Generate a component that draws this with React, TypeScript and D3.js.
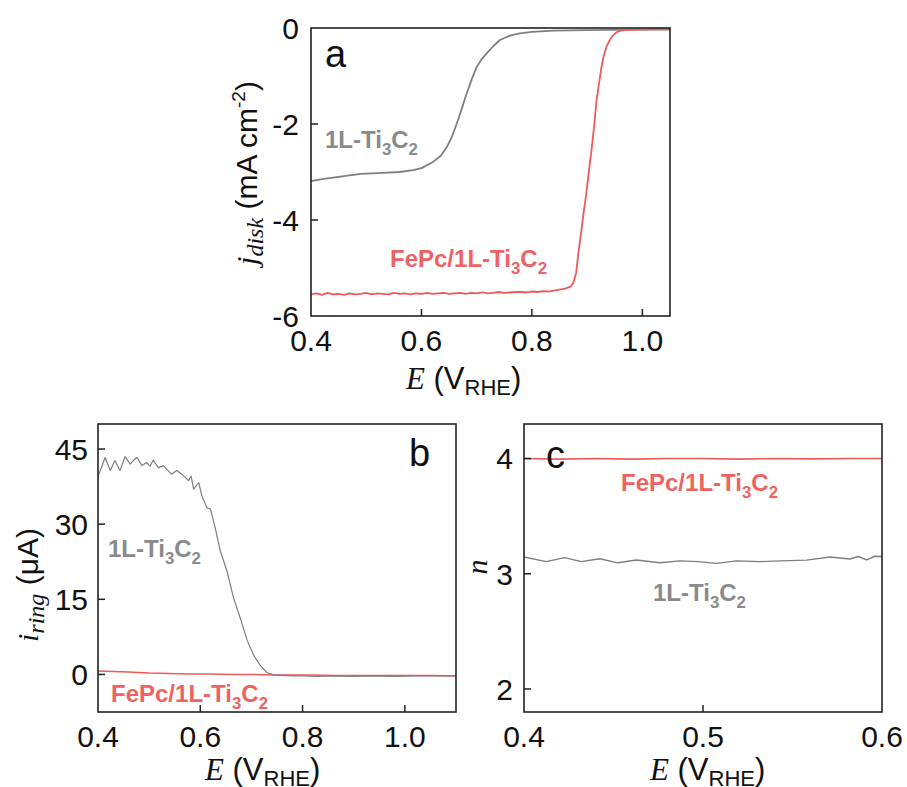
import React from "react";
import * as d3 from "d3";

// ---------- Panel a data ----------
const aGrayE = [0.4, 0.42, 0.45, 0.49, 0.53, 0.56, 0.585, 0.6, 0.621, 0.635, 0.646, 0.655, 0.664, 0.673, 0.682, 0.691, 0.7, 0.709, 0.718, 0.73, 0.742, 0.76, 0.778, 0.8, 0.839, 0.9, 0.95, 1.0, 1.05];
const aGrayJ = [-3.19, -3.15, -3.1, -3.04, -3.02, -3.0, -2.96, -2.92, -2.79, -2.66, -2.48, -2.27, -1.99, -1.68, -1.36, -1.07, -0.81, -0.65, -0.53, -0.38, -0.25, -0.16, -0.11, -0.08, -0.056, -0.045, -0.038, -0.033, -0.03];

const aRedE = [0.4, 0.41, 0.42, 0.43, 0.44, 0.45, 0.46, 0.47, 0.48, 0.49, 0.5, 0.51, 0.52, 0.53, 0.54, 0.55, 0.56, 0.57, 0.58, 0.59, 0.6, 0.61, 0.62, 0.63, 0.64, 0.65, 0.66, 0.67, 0.68, 0.69, 0.7, 0.71, 0.72, 0.73, 0.74, 0.75, 0.76, 0.77, 0.78, 0.79, 0.8, 0.81, 0.82, 0.83, 0.84, 0.85, 0.86, 0.87, 0.875, 0.88, 0.884, 0.889, 0.893, 0.899, 0.904, 0.908, 0.913, 0.917, 0.922, 0.926, 0.93, 0.935, 0.941, 0.947, 0.953, 0.959, 0.971, 0.99, 1.02, 1.05];
const aRedJ = [-5.55, -5.53, -5.56, -5.52, -5.55, -5.54, -5.56, -5.53, -5.55, -5.54, -5.52, -5.55, -5.53, -5.54, -5.55, -5.52, -5.54, -5.53, -5.55, -5.53, -5.54, -5.52, -5.54, -5.53, -5.52, -5.54, -5.53, -5.52, -5.54, -5.52, -5.53, -5.51, -5.53, -5.52, -5.5, -5.52, -5.51, -5.5, -5.5, -5.51, -5.49, -5.5, -5.48, -5.49, -5.47, -5.45, -5.43, -5.39, -5.3, -5.11, -4.7, -4.27, -3.9, -3.4, -2.9, -2.54, -2.0, -1.5, -1.12, -0.81, -0.58, -0.39, -0.25, -0.15, -0.09, -0.06, -0.04, -0.035, -0.03, -0.03];

// ---------- Panel b data ----------
const bGrayE = [0.4, 0.403, 0.414, 0.424, 0.433, 0.443, 0.453, 0.463, 0.47, 0.476, 0.486, 0.495, 0.502, 0.508, 0.518, 0.528, 0.536, 0.544, 0.554, 0.567, 0.577, 0.582, 0.587, 0.597, 0.603, 0.613, 0.62, 0.629, 0.639, 0.652, 0.665, 0.678, 0.692, 0.705, 0.718, 0.731, 0.744, 0.76, 0.78, 0.8, 0.83, 0.86, 0.9, 0.94, 0.98, 1.02, 1.06, 1.1];
const bGrayI = [39.5, 40.3, 43.3, 40.7, 42.7, 40.7, 43.5, 42.0, 42.8, 43.3, 41.7, 42.3, 41.6, 42.8, 41.3, 41.7, 40.8, 40.0, 40.7, 39.7, 38.7, 39.6, 37.0, 38.3, 35.7, 33.3, 33.0, 29.3, 24.7, 20.7, 15.3, 11.3, 6.7, 3.7, 1.7, 0.3, -0.1, -0.2, -0.3, -0.3, -0.4, -0.3, -0.4, -0.3, -0.4, -0.3, -0.3, -0.3];

const bRedE = [0.4, 0.43, 0.46, 0.5, 0.54, 0.58, 0.62, 0.66, 0.7, 0.74, 0.78, 0.82, 0.86, 0.9, 0.95, 1.0, 1.05, 1.1];
const bRedI = [0.7, 0.6, 0.5, 0.3, 0.2, 0.1, 0.1, 0.0, 0.0, -0.1, -0.1, -0.1, -0.2, -0.2, -0.2, -0.2, -0.2, -0.3];

// ---------- Panel c data ----------
const cRedE = [0.4, 0.42, 0.44, 0.46, 0.48, 0.5, 0.52, 0.54, 0.56, 0.58, 0.6];
const cRedN = [4.0, 3.995, 4.0, 3.995, 4.0, 4.0, 3.995, 4.0, 3.997, 4.0, 4.0];

const cGrayE = [0.4, 0.4125, 0.4227, 0.432, 0.4423, 0.4525, 0.4628, 0.4759, 0.487, 0.4973, 0.5075, 0.5187, 0.5318, 0.543, 0.5579, 0.571, 0.582, 0.5868, 0.5914, 0.596, 0.6];
const cGrayN = [3.145, 3.105, 3.14, 3.105, 3.13, 3.095, 3.12, 3.095, 3.112, 3.105, 3.09, 3.112, 3.105, 3.112, 3.118, 3.145, 3.128, 3.15, 3.12, 3.152, 3.15];

// ---------- Tick labels ----------
const aXTicks = [0.4, 0.6, 0.8, 1.0];
const aYTicks = [0, -2, -4, -6];
const bXTicks = [0.4, 0.6, 0.8, 1.0];
const bYTicks = [0, 15, 30, 45];
const cXTicks = [0.4, 0.5, 0.6];
const cYTicks = [2, 3, 4];

const RED = "#ee6262";
const GRAY = "#8a8a8a";
const RED_LINE = "#ee5a5a";
const GRAY_LINE = "#7f7f7f";
const SANS = "Liberation Sans, Arial, sans-serif";
const SERIF = "Liberation Serif, Times New Roman, serif";
const TICK_FS = 30;

type Curve = { e: number[]; v: number[]; color: string; width: number };

function Panel(props: {
  x0: number; x1: number; y0: number; y1: number;
  xDom: [number, number]; yDom: [number, number];
  xTicks: number[]; yTicks: number[];
  xFmt: (d: number) => string; yFmt: (d: number) => string;
  curves: Curve[];
  yLabelRight: number;
}) {
  const { x0, x1, y0, y1, xDom, yDom, xTicks, yTicks, curves } = props;
  const x = d3.scaleLinear().domain(xDom).range([x0, x1]);
  const y = d3.scaleLinear().domain(yDom).range([y1, y0]);
  const tl = 7;
  return (
    <g>
      <defs>
        <clipPath id={`clip${x0}`}>
          <rect x={x0} y={y0} width={x1 - x0} height={y1 - y0} />
        </clipPath>
      </defs>
      <g clipPath={`url(#clip${x0})`}>
        {curves.map((c, i) => {
          const pts = c.e.map((e, k) => [e, c.v[k]] as [number, number]);
          const line = d3.line<[number, number]>().x((d) => x(d[0])).y((d) => y(d[1]));
          return <path key={i} d={line(pts) || ""} fill="none" stroke={c.color} strokeWidth={c.width} strokeLinejoin="round" />;
        })}
      </g>
      {xTicks.map((t) => (
        <g key={"xt" + t}>
          {x(t) > x0 + 1 && x(t) < x1 - 1 && (
            <line x1={x(t)} x2={x(t)} y1={y1} y2={y1 - tl} stroke="#222" strokeWidth={1.5} />
          )}
          <text x={x(t)} y={y1 + 35} textAnchor="middle" fontFamily={SANS} fontSize={TICK_FS} fill="#111">
            {props.xFmt(t)}
          </text>
        </g>
      ))}
      {yTicks.map((t) => (
        <g key={"yt" + t}>
          {y(t) > y0 + 1 && y(t) < y1 - 1 && (
            <line x1={x0} x2={x0 + tl} y1={y(t)} y2={y(t)} stroke="#222" strokeWidth={1.5} />
          )}
          <text x={props.yLabelRight} y={y(t)} dy="0.36em" textAnchor="end" fontFamily={SANS} fontSize={TICK_FS} fill="#111">
            {props.yFmt(t)}
          </text>
        </g>
      ))}
      <rect x={x0} y={y0} width={x1 - x0} height={y1 - y0} fill="none" stroke="#222" strokeWidth={1.6} />
    </g>
  );
}

function TiLabel(props: { x: number; y: number; color: string; prefix: string; fs: number }) {
  const { x, y, color, prefix, fs } = props;
  const sub = fs * 0.7;
  const sh = fs * 0.28;
  return (
    <text x={x} y={y} fontFamily={SANS} fontWeight="bold" fontSize={fs} fill={color}>
      {prefix}1L-Ti
      <tspan fontSize={sub} dy={sh}>3</tspan>
      <tspan dy={-sh}>C</tspan>
      <tspan fontSize={sub} dy={sh}>2</tspan>
    </text>
  );
}

function XTitle(props: { x: number; y: number }) {
  return (
    <text x={props.x} y={props.y} fontSize={31} fill="#111" fontFamily={SANS}>
      <tspan fontFamily={SERIF} fontStyle="italic">E</tspan>
      <tspan> (V</tspan>
      <tspan fontSize={22} dy={6}>RHE</tspan>
      <tspan dy={-6}>)</tspan>
    </text>
  );
}

export default function App() {
  const fmt1 = (d: number) => d.toFixed(1);
  const fmtInt = (d: number) => (d < 0 ? "-" + Math.abs(d) : String(d));
  const LFS = 24;
  return (
    <svg width={907} height={787} style={{ position: "absolute", left: 0, top: 0, background: "#fff" }}>
      <rect x={0} y={0} width={907} height={787} fill="#fff" />
      {/* Panel a */}
      <Panel
        x0={311} x1={670} y0={28} y1={316}
        xDom={[0.4, 1.05]} yDom={[-6, 0]}
        xTicks={aXTicks} yTicks={aYTicks}
        xFmt={fmt1} yFmt={fmtInt}
        curves={[
          { e: aGrayE, v: aGrayJ, color: GRAY_LINE, width: 1.8 },
          { e: aRedE, v: aRedJ, color: RED_LINE, width: 1.8 },
        ]}
        yLabelRight={299}
      />
      <text x={325} y={67} fontFamily={SANS} fontSize={38} fill="#111">a</text>
      <TiLabel x={325} y={148} color={GRAY} prefix="" fs={LFS} />
      <TiLabel x={390} y={267} color={RED} prefix="FePc/" fs={LFS} />
      <XTitle x={406} y={389} />
      <g transform="translate(257,173) rotate(-90)">
        <text x={0} y={0} textAnchor="middle" fontSize={30} fill="#111" fontFamily={SANS}>
          <tspan fontFamily={SERIF} fontStyle="italic">j</tspan>
          <tspan fontFamily={SERIF} fontStyle="italic" fontSize={24} dy={6}>disk</tspan>
          <tspan dy={-6}> (mA cm</tspan>
          <tspan fontSize={19} dy={-12}>-2</tspan>
          <tspan dy={12}>)</tspan>
        </text>
      </g>

      {/* Panel b */}
      <Panel
        x0={98} x1={456} y0={424} y1={712}
        xDom={[0.4, 1.1]} yDom={[-7.5, 50]}
        xTicks={bXTicks} yTicks={bYTicks}
        xFmt={fmt1} yFmt={fmtInt}
        curves={[
          { e: bRedE, v: bRedI, color: RED_LINE, width: 1.6 },
          { e: bGrayE, v: bGrayI, color: GRAY_LINE, width: 1.2 },
        ]}
        yLabelRight={88}
      />
      <text x={409} y={466} fontFamily={SANS} fontSize={38} fill="#111">b</text>
      <TiLabel x={108} y={557} color={GRAY} prefix="" fs={LFS} />
      <TiLabel x={111} y={702} color={RED} prefix="FePc/" fs={LFS} />
      <XTitle x={205} y={780} />
      <g transform="translate(38,585) rotate(-90)">
        <text x={0} y={0} textAnchor="middle" fontSize={30} fill="#111" fontFamily={SANS}>
          <tspan fontFamily={SERIF} fontStyle="italic">i</tspan>
          <tspan fontFamily={SERIF} fontStyle="italic" fontSize={24} dy={6}>ring</tspan>
          <tspan dy={-6}> (μA)</tspan>
        </text>
      </g>

      {/* Panel c */}
      <Panel
        x0={524} x1={882} y0={424} y1={712}
        xDom={[0.4, 0.6]} yDom={[1.8, 4.3]}
        xTicks={cXTicks} yTicks={cYTicks}
        xFmt={fmt1} yFmt={fmtInt}
        curves={[
          { e: cRedE, v: cRedN, color: RED_LINE, width: 1.6 },
          { e: cGrayE, v: cGrayN, color: GRAY_LINE, width: 1.4 },
        ]}
        yLabelRight={513}
      />
      <text x={546} y={468} fontFamily={SANS} fontSize={38} fill="#111">c</text>
      <TiLabel x={621} y={491} color={RED} prefix="FePc/" fs={LFS} />
      <TiLabel x={653} y={601} color={GRAY} prefix="" fs={LFS} />
      <XTitle x={650} y={780} />
      <g transform="translate(487,567) rotate(-90)">
        <text x={0} y={0} textAnchor="middle" fontSize={30} fill="#111" fontFamily={SERIF} fontStyle="italic">n</text>
      </g>
    </svg>
  );
}
